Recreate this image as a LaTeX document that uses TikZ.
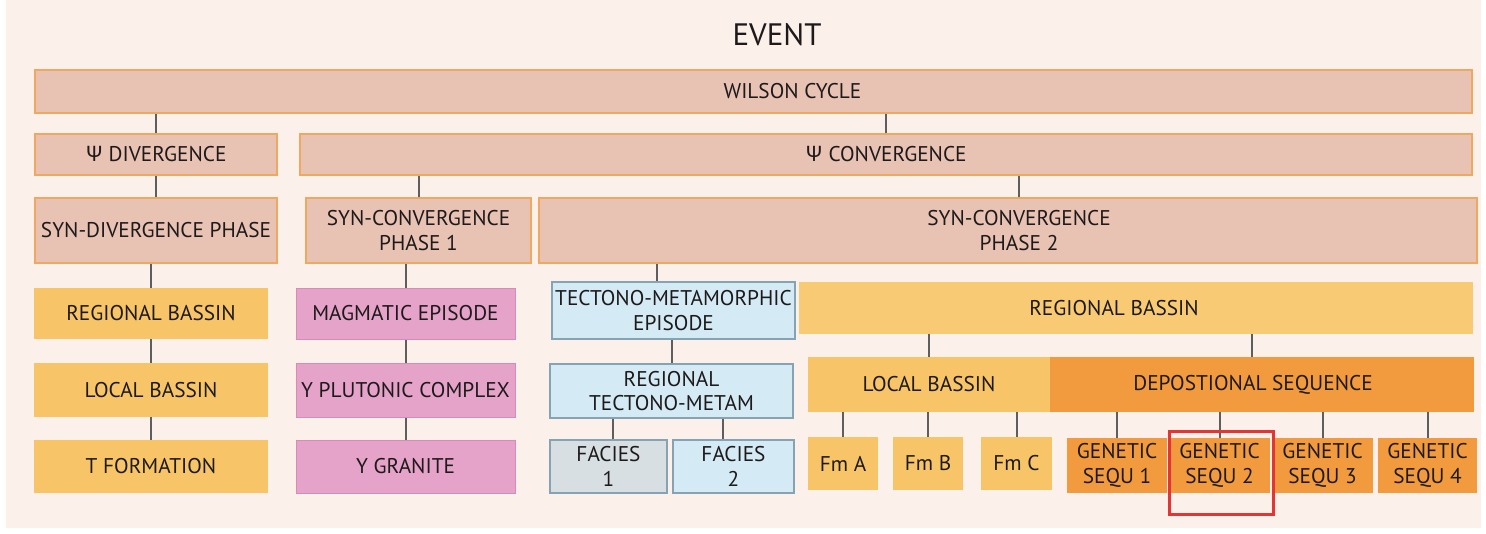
\documentclass[tikz,border=0pt]{standalone}
\usepackage{fontspec}
\setmainfont{PT Sans}
\newfontfamily\grk{Noto Sans}

\definecolor{bgpeach}{HTML}{FBF1EA}
\definecolor{salmon}{HTML}{E8C2B2}
\definecolor{salmonline}{HTML}{F0A860}
\definecolor{sand}{HTML}{F7C468}
\definecolor{sandlight}{HTML}{F8CA74}
\definecolor{rose}{HTML}{E5A3C9}
\definecolor{roseline}{HTML}{D98BB8}
\definecolor{ice}{HTML}{D4EBF5}
\definecolor{iceline}{HTML}{86A3B3}
\definecolor{fog}{HTML}{D8DFE2}
\definecolor{tangerine}{HTML}{F29A3E}
\definecolor{ink}{HTML}{1E1A1B}
\definecolor{edgegray}{HTML}{5E5E5E}
\definecolor{marker}{HTML}{E33533}

\begin{document}
\begin{tikzpicture}[
    x=1pt, y=-1pt,
    box/.style={inner sep=0pt, align=center, text=ink,
      font=\fontsize{21.3}{24.5}\selectfont},
    phase/.style={box, fill=salmon, draw=salmonline, line width=1.3pt},
    basin/.style={box, fill=sand},
    magma/.style={box, fill=rose, draw=roseline, line width=1pt},
    meta/.style={box, fill=ice, draw=iceline, line width=1.2pt},
    seq/.style={box, fill=tangerine},
    edge/.style={draw=edgegray, line width=2pt}]

    \useasboundingbox (0,0) rectangle (1486,533);
    \fill[bgpeach] (6,0) rectangle (1481,528);

    \node[font=\fontsize{31}{36}\selectfont, text=ink] (event) at (777,35) {EVENT};

    \node[phase, minimum width=1437pt, minimum height=43pt] (wilson) at (753.5,91.5) {\hspace*{78pt}WILSON CYCLE};

    \node[phase, minimum width=242pt, minimum height=41pt] (psidiv) at (156,154.5) {{\grk Ψ} DIVERGENCE};
    \node[phase, minimum width=1172pt, minimum height=41pt] (psiconv) at (886,154.5) {{\grk Ψ} CONVERGENCE};
    \draw[edge] (psidiv.north) -- (psidiv.north |- wilson.south);
    \draw[edge] (psiconv.north) -- (psiconv.north |- wilson.south);

    \node[phase, minimum width=242pt, minimum height=65pt] (syndiv) at (156,230.5) {SYN-DIVERGENCE PHASE};
    \node[phase, minimum width=225pt, minimum height=65pt] (synconv1) at (418.5,230.5) {SYN-CONVERGENCE\\PHASE 1};
    \node[phase, minimum width=938pt, minimum height=65pt] (synconv2) at (1008,230.5) {\hspace*{22pt}SYN-CONVERGENCE\\\hspace*{22pt}PHASE 2};
    \coordinate (p2top) at ([xshift=11pt]synconv2.north);
    \draw[edge] (syndiv.north) -- (syndiv.north |- psidiv.south);
    \draw[edge] (synconv1.north) -- (synconv1.north |- psiconv.south);
    \draw[edge] (p2top) -- (p2top |- psiconv.south);

    \node[basin, minimum width=234pt, minimum height=51pt] (regbasin) at (151,313.5) {REGIONAL BASSIN};
    \node[magma, minimum width=219pt, minimum height=51pt] (magmatic) at (405.5,313.5) {MAGMATIC EPISODE};
    \node[meta, minimum width=243pt, minimum height=57pt] (tectono) at (673.5,310.5) {TECTONO-METAMORPHIC\\EPISODE};
    \node[box, fill=sandlight, minimum width=674pt, minimum height=52pt] (regbasinb) at (1136,308) {REGIONAL BASSIN\hspace*{44pt}};
    \coordinate (tecttop) at ([xshift=-16.5pt]tectono.north);
    \draw[edge] (regbasin.north) -- (regbasin.north |- syndiv.south);
    \draw[edge] (magmatic.north) -- (magmatic.north |- synconv1.south);
    \draw[edge] (tecttop) -- (tecttop |- synconv2.south);

    \node[basin, minimum width=234pt, minimum height=54pt] (localbasin) at (151,390) {LOCAL BASSIN};
    \node[magma, minimum width=219pt, minimum height=54pt] (plutonic) at (405.5,390) {Y PLUTONIC COMPLEX};
    \node[meta, minimum width=243pt, minimum height=54pt] (regtecto) at (671.5,391) {REGIONAL\\TECTONO-METAM};
    \node[basin, minimum width=242pt, minimum height=55pt] (localbasinb) at (929,384.5) {LOCAL BASSIN};
    \node[seq, minimum width=424pt, minimum height=55pt] (depseq) at (1262,384.5) {DEPOSTIONAL SEQUENCE\hspace*{18pt}};
    \coordinate (deptop) at ([xshift=-10pt]depseq.north);
    \draw[edge] (localbasin.north) -- (localbasin.north |- regbasin.south);
    \draw[edge] (plutonic.north) -- (plutonic.north |- magmatic.south);
    \draw[edge] (regtecto.north) -- (regtecto.north |- tectono.south);
    \draw[edge] (localbasinb.north) -- (localbasinb.north |- regbasinb.south);
    \draw[edge] (deptop) -- (deptop |- regbasinb.south);

    \node[basin, minimum width=234pt, minimum height=53pt] (tform) at (151,466.5) {T FORMATION};
    \node[magma, minimum width=219pt, minimum height=53pt] (granite) at (405.5,466.5) {Y GRANITE};
    \draw[edge] (tform.north) -- (tform.north |- localbasin.south);
    \draw[edge] (granite.north) -- (granite.north |- plutonic.south);

    \node[meta, fill=fog, minimum width=117pt, minimum height=53pt] (facies1) at (608.5,466.5) {FACIES\\1};
    \node[meta, minimum width=121pt, minimum height=53pt] (facies2) at (733.5,466.5) {FACIES\\2};
    \coordinate (f1top) at ([xshift=4.5pt]facies1.north);
    \coordinate (f2top) at ([xshift=-10.5pt]facies2.north);
    \draw[edge] (f1top) -- (f1top |- regtecto.south);
    \draw[edge] (f2top) -- (f2top |- regtecto.south);

    \node[basin, minimum width=70pt, minimum height=53pt] (fma) at (843,463.5) {Fm A};
    \node[basin, minimum width=70pt, minimum height=53pt] (fmb) at (928,463.5) {Fm B};
    \node[basin, minimum width=71pt, minimum height=53pt] (fmc) at (1016.5,463.5) {Fm C};
    \draw[edge] (fma.north) -- (fma.north |- localbasinb.south);
    \draw[edge] (fmb.north) -- (fmb.north |- localbasinb.south);
    \draw[edge] (fmc.north) -- (fmc.north |- localbasinb.south);

    \node[seq, minimum width=100pt, minimum height=55pt] (gen1) at (1117,465.5) {GENETIC\\SEQU 1};
    \node[seq, minimum width=101pt, minimum height=55pt] (gen2) at (1219.5,465.5) {GENETIC\\SEQU 2};
    \node[seq, minimum width=101pt, minimum height=55pt] (gen3) at (1322.5,465.5) {GENETIC\\SEQU 3};
    \node[seq, minimum width=99pt, minimum height=55pt] (gen4) at (1427.5,465.5) {GENETIC\\SEQU 4};
    \draw[edge] (gen1.north) -- (gen1.north |- depseq.south);
    \draw[edge] (gen2.north) -- (gen2.north |- depseq.south);
    \draw[edge] (gen3.north) -- (gen3.north |- depseq.south);
    \draw[edge] (gen4.north) -- (gen4.north |- depseq.south);

    \draw[marker, line width=3pt] (1169,431) rectangle (1273,514);
  \end{tikzpicture}
\end{document}
